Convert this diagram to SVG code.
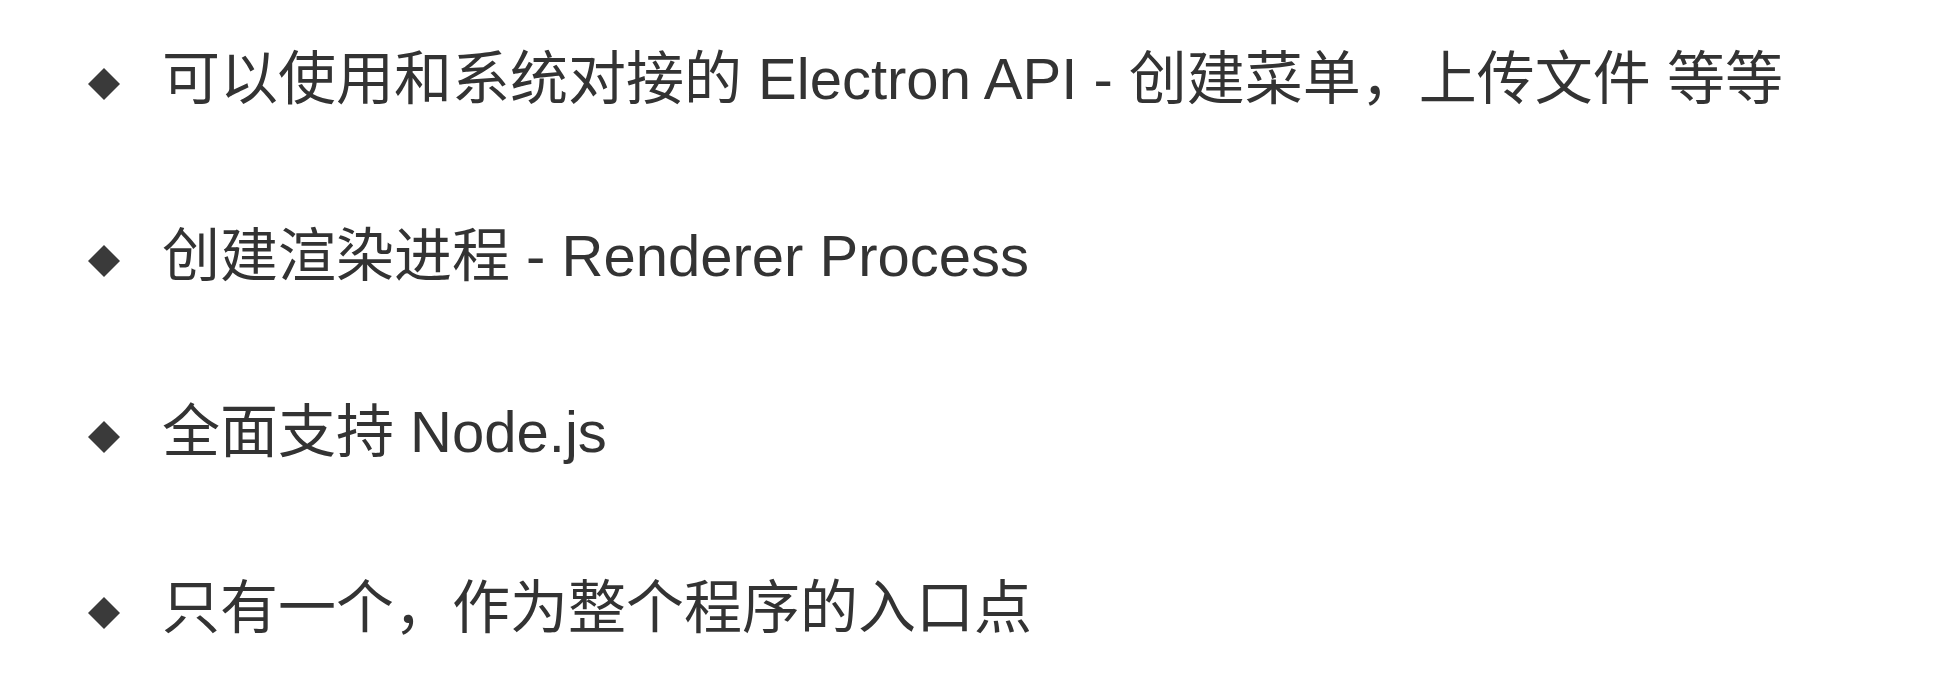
<svg xmlns="http://www.w3.org/2000/svg" width="1936" height="696" viewBox="0 0 1936 696">
<style>
.t{font-family:"Liberation Sans","Noto Sans CJK SC",sans-serif;font-size:58px;fill:#333333;}
.b{fill:#3a3a3a;}
</style>
<defs>
<polygon id="dia" points="0,-16 16,0 0,16 -16,0"/>
</defs>
<rect width="1936" height="696" fill="#ffffff"/>
<g id="item1">
<use href="#dia" class="b" x="104" y="84"/>
<text class="t" x="162" y="99">可以使用和系统对接的 Electron API - 创建菜单，上传文件 等等</text>
</g>
<g id="item2">
<use href="#dia" class="b" x="104" y="261"/>
<text class="t" x="162" y="276">创建渲染进程 - Renderer Process</text>
</g>
<g id="item3">
<use href="#dia" class="b" x="104" y="437"/>
<text class="t" x="162" y="452">全面支持 Node.js</text>
</g>
<g id="item4">
<use href="#dia" class="b" x="104" y="613"/>
<text class="t" x="162" y="628">只有一个，作为整个程序的入口点</text>
</g>
</svg>
